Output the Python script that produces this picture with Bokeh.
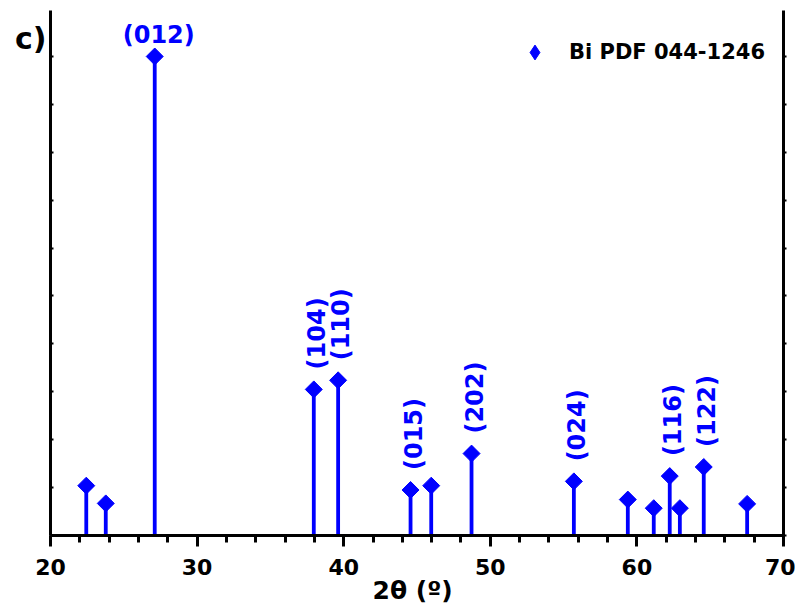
import math
from bokeh.plotting import figure
from bokeh.models import (ColumnDataSource, LinearAxis, SingleIntervalTicker, FixedTicker, Range1d,
                          Legend, LegendItem, CustomJSTickFormatter)
from bokeh.core.properties import value
from bokeh.embed import file_html
from bokeh.resources import INLINE

# ---- data ----
two_theta = [22.44, 23.77, 27.11, 37.96, 39.62, 44.56, 45.97, 48.72, 55.70,
             59.38, 61.15, 62.24, 62.93, 64.56, 67.52]
intensity = [10.4, 6.7, 100.0, 30.5, 32.4, 9.5, 10.4, 17.1, 11.3,
             7.5, 5.7, 12.4, 5.7, 14.3, 6.6]
hkl = ["", "", "(012)", "(104)", "(110)", "(015)", "", "(202)", "(024)",
       "", "", "(116)", "", "(122)", ""]
x_ticks = [20, 30, 40, 50, 60, 70]
series_name = "Bi PDF 044-1246"
panel_tag = "c)"
panel_tag_level = 103.8

BLUE = "#0000ff"
FONT = "DejaVu Sans"

p = figure(width=795, height=607, output_backend="svg", toolbar_location=None,
           x_range=Range1d(20, 70), y_range=Range1d(0, 109.6),
           min_border_left=50, min_border_right=12, min_border_top=10, min_border_bottom=72)
p.outline_line_color = None
p.xgrid.visible = False
p.ygrid.visible = False
p.background_fill_color = "white"
p.border_fill_color = "white"

blank = CustomJSTickFormatter(code="return ''")

# x axis
xa = p.xaxis[0]
xa.ticker = SingleIntervalTicker(interval=10, num_minor_ticks=5)
xa.axis_line_width = 3
xa.major_tick_line_width = 3
xa.minor_tick_line_width = 3
xa.major_tick_in = 0
xa.major_tick_out = 11
xa.minor_tick_in = 0
xa.minor_tick_out = 7
xa.major_label_text_font = FONT
xa.major_label_text_font_style = "bold"
xa.major_label_text_font_size = "22px"
xa.major_label_text_color = "black"
xa.major_label_standoff = 12
xa.axis_label = "2θ  (º)"
xa.axis_label_text_font = FONT
xa.axis_label_text_font_style = "bold"
xa.axis_label_text_font_size = "25px"
xa.axis_label_text_color = "black"
xa.axis_label_standoff = -2

# left y axis (no labels)
ya = p.yaxis[0]
ya.ticker = SingleIntervalTicker(interval=10, num_minor_ticks=0)
ya.formatter = blank
ya.axis_line_width = 3
ya.major_tick_in = 3
ya.major_tick_out = 0
ya.major_tick_line_width = 2
ya.minor_tick_line_color = None
ya.major_label_standoff = 0

# panel tag "c)" as a label-only axis on the far left
tag_axis = LinearAxis(ticker=FixedTicker(ticks=[panel_tag_level]),
                      major_label_overrides={panel_tag_level: panel_tag})
tag_axis.axis_line_color = None
tag_axis.major_tick_line_color = None
tag_axis.minor_tick_line_color = None
tag_axis.major_tick_in = 0
tag_axis.major_tick_out = 0
tag_axis.major_label_standoff = 4
tag_axis.major_label_text_font = FONT
tag_axis.major_label_text_font_style = "bold"
tag_axis.major_label_text_font_size = "30px"
tag_axis.major_label_text_color = "black"
p.add_layout(tag_axis, "left")

# right y axis (no labels)
ra = LinearAxis(ticker=SingleIntervalTicker(interval=10, num_minor_ticks=0), formatter=blank)
ra.axis_line_width = 3
ra.major_tick_in = 0
ra.major_tick_out = 3
ra.major_tick_line_width = 2
ra.minor_tick_line_color = None
ra.major_label_standoff = 0
p.add_layout(ra, "right")

src = ColumnDataSource(dict(x=two_theta, y=intensity, y0=[0] * len(two_theta)))
p.segment(x0="x", y0="y0", x1="x", y1="y", source=src, line_color=BLUE, line_width=3.8)
p.scatter(x="x", y="y", source=src, marker="square", angle=math.pi / 4,
          size=12, fill_color=BLUE, line_color=BLUE)

# legend-only renderer (legend glyphs ignore marker angle, so use a diamond marker)
leg_r = p.scatter(x=[float("nan")], y=[float("nan")], marker="diamond",
                  fill_color=BLUE, line_color=BLUE)

# labels
rx = [x for x, t in zip(two_theta, hkl) if t and x > 30]
ry = [y for x, y, t in zip(two_theta, intensity, hkl) if t and x > 30]
rt = [t for x, t in zip(two_theta, hkl) if t and x > 30]
p.text(x=rx, y=ry, text=rt, angle=math.pi / 2, text_align="left", text_baseline="middle",
       x_offset=3, y_offset=-20, text_color=BLUE, text_font=value(FONT),
       text_font_style="bold", text_font_size="24px")
hx = [x for x, t in zip(two_theta, hkl) if t and x <= 30]
hy = [y for x, y, t in zip(two_theta, intensity, hkl) if t and x <= 30]
ht = [t for x, t in zip(two_theta, hkl) if t and x <= 30]
p.text(x=hx, y=hy, text=ht, text_align="center", text_baseline="bottom",
       x_offset=4, y_offset=-7, text_color=BLUE, text_font=value(FONT),
       text_font_style="bold", text_font_size="24px")

legend = Legend(items=[LegendItem(label=series_name, renderers=[leg_r])],
                location="top_right", border_line_color=None, background_fill_alpha=0,
                label_text_font=FONT, label_text_font_style="bold", label_text_color="black",
                label_text_font_size="21px", glyph_width=37, glyph_height=48,
                label_standoff=16, padding=0, margin=18, spacing=0)
p.add_layout(legend)

open("out.html", "w").write(file_html(p, INLINE))
